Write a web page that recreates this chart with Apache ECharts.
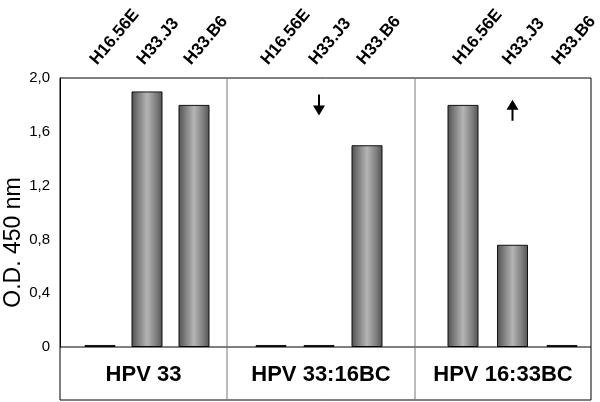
<!DOCTYPE html>
<html>
<head>
<meta charset="utf-8">
<script src="https://cdn.jsdelivr.net/npm/echarts@6/dist/echarts.min.js"></script>
<style>
html,body{margin:0;padding:0;background:#fff;}
#chart{width:600px;height:402px;}
</style>
</head>
<body>
<div id="chart"></div>
<script>
// ---- data ----
const cellLines = ['H16.56E', 'H33.J3', 'H33.B6'];
const panels = ['HPV 33', 'HPV 33:16BC', 'HPV 16:33BC'];
const hpv33 = [0.015, 1.9, 1.8];
const hpv33_16BC = [0.015, 0.015, 1.5];
const hpv16_33BC = [1.8, 0.76, 0.015];
const arrowMarks = [null, { cat: 'H33.J3', value: 1.80, dir: 'down' }, { cat: 'H33.J3', value: 1.76, dir: 'up' }];
const yMin = 0, yMax = 2, yStep = 0.4;

// ---- layout ----
const FONT = 'Liberation Sans, Arial, sans-serif';
const plotTop = 78, zeroY = 347, boxBottom = 400, plotLeft = 60, plotRight = 591;
const dividers = [227, 415];
const panelEdges = [plotLeft, dividers[0], dividers[1], plotRight];
const barBands = [[76.5, 141], [247, 144], [438.25, 148.5]];
const seriesData = [hpv33, hpv33_16BC, hpv16_33BC];

const barColor = {
  type: 'linear', x: 0, y: 0, x2: 1, y2: 0,
  colorStops: [
    { offset: 0, color: '#505050' },
    { offset: 0.2, color: '#7a7a7a' },
    { offset: 0.5, color: '#b5b5b5' },
    { offset: 0.8, color: '#7e7e7e' },
    { offset: 1, color: '#525252' }
  ]
};
const downPath = 'path://M5,0 L7,0 L7,11 L12,11 L6,21 L0,11 L5,11 Z';
const upPath = 'path://M6,0 L12,10 L7,10 L7,21 L5,21 L5,10 L0,10 Z';

const grids = [], xAxes = [], yAxes = [], series = [];
seriesData.forEach((d, i) => {
  grids.push({ left: barBands[i][0], width: barBands[i][1], top: plotTop, height: zeroY - plotTop,
    containLabel: false, outerBoundsMode: 'none' });
  xAxes.push({
    type: 'category', gridIndex: i, position: 'top', data: cellLines,
    axisLine: { show: false }, axisTick: { show: false },
    axisLabel: { rotate: 50, margin: 10, align: 'left', verticalAlign: 'bottom',
      fontFamily: FONT, fontWeight: 'bold', fontSize: 17, color: '#000', interval: 0 }
  });
  yAxes.push({
    type: 'value', gridIndex: i, min: yMin, max: yMax, interval: yStep,
    show: i === 0, offset: i === 0 ? barBands[0][0] - plotLeft : 0,
    axisLine: { show: true, lineStyle: { color: '#000', width: 1 } },
    axisTick: { show: false },
    splitLine: { show: false },
    axisLabel: { margin: 10, fontFamily: FONT, fontSize: 15, color: '#000',
      formatter: v => v === 0 ? '0' : v.toFixed(1).replace('.', ',') },
    name: i === 0 ? 'O.D. 450 nm' : '', nameLocation: 'middle', nameGap: 31,
    nameTextStyle: { fontFamily: FONT, fontSize: 23, color: '#000', padding: [0, 60, 0, 0] }
  });
  const s = {
    type: 'bar', xAxisIndex: i, yAxisIndex: i, data: d, barWidth: 31,
    itemStyle: { color: barColor, borderColor: '#111', borderWidth: 1 },
    emphasis: { disabled: true }, animation: false
  };
  const a = arrowMarks[i];
  if (a) {
    s.markPoint = {
      data: [{ coord: [a.cat, a.value] }],
      symbol: a.dir === 'down' ? downPath : upPath,
      symbolSize: [12, 21], symbolKeepAspect: false,
      itemStyle: { color: '#000' }, label: { show: false }, silent: true
    };
  }
  series.push(s);
});

const graphic = [
  { type: 'rect', shape: { x: plotLeft, y: plotTop, width: plotRight - plotLeft, height: boxBottom - plotTop },
    style: { fill: null, stroke: '#000', lineWidth: 1 }, z: 10 },
  { type: 'line', shape: { x1: plotLeft, y1: zeroY, x2: plotRight, y2: zeroY }, style: { stroke: '#000', lineWidth: 1 }, z: 10 }
];
dividers.forEach(x => graphic.push({ type: 'line', shape: { x1: x, y1: plotTop, x2: x, y2: boxBottom }, style: { stroke: '#777', lineWidth: 1 }, z: 10 }));
panels.forEach((p, i) => graphic.push({
  type: 'text', x: (panelEdges[i] + panelEdges[i + 1]) / 2, y: (zeroY + boxBottom) / 2 + 1,
  style: { text: p, font: 'bold 22px ' + FONT, fill: '#000', textAlign: 'center', textVerticalAlign: 'middle' }, z: 10
}));

const chart = echarts.init(document.getElementById('chart'), null, { renderer: 'canvas' });
chart.setOption({
  animation: false,
  backgroundColor: '#fff',
  grid: grids, xAxis: xAxes, yAxis: yAxes, series: series, graphic: graphic
});
</script>
</body>
</html>
